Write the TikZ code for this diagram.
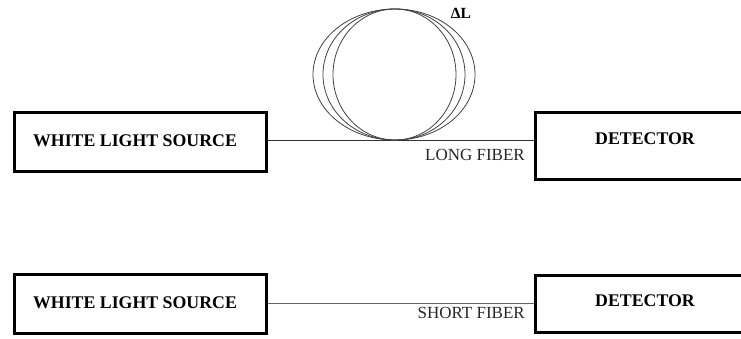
\documentclass[tikz,border=0pt]{standalone}
\usepackage{fontspec}
\setmainfont{Liberation Serif}
\begin{document}
\begin{tikzpicture}[x=1pt,y=1pt,
  box/.style={draw=black, line width=3pt, rectangle, inner sep=0pt},
  boxlabel/.style={font=\fontsize{17.8}{20}\selectfont\bfseries, inner sep=0pt},
  fiberlabel/.style={font=\fontsize{17}{20}\selectfont, inner sep=0pt, text=black!85},
  fiber/.style={draw=black!80, line width=1pt},
  loop/.style={draw=black!75, line width=0.8pt}]
\useasboundingbox (0,0) rectangle (741,338);
% top row
\node[box, minimum width=252pt, minimum height=59pt] (wls1) at (140,196.5) {};
\node[boxlabel] (wls1t) at (135,197) {WHITE LIGHT SOURCE};
\node[box, minimum width=216pt, minimum height=67pt] (det1) at (643,192.5) {};
\node[boxlabel] (det1t) at (645,199) {DETECTOR};
\coordinate (loopbot) at (395,198);
\draw[fiber] (wls1.east |- loopbot) -- (det1.west |- loopbot);
\node[fiberlabel, anchor=base east] (long) at (525,177.5) {LONG FIBER};
\draw[loop] (loopbot) arc[start angle=-90, end angle=-270, x radius=82, y radius=65.5]
  arc[start angle=90, end angle=-90, x radius=61, y radius=65.5];
\draw[loop] (loopbot) arc[start angle=-90, end angle=-270, x radius=72, y radius=65.5]
  arc[start angle=90, end angle=-90, x radius=70, y radius=65.5];
\draw[loop] (loopbot) arc[start angle=-90, end angle=-270, x radius=62, y radius=65.5]
  arc[start angle=90, end angle=-90, x radius=80, y radius=65.5];
\node[font=\fontsize{15.5}{17}\selectfont\bfseries, inner sep=0pt] (dl) at (461,324.5) {ΔL};
% bottom row
\node[box, minimum width=252pt, minimum height=59pt] (wls2) at (140,34.5) {};
\node[boxlabel] (wls2t) at (135,35.5) {WHITE LIGHT SOURCE};
\node[box, minimum width=216pt, minimum height=57pt] (det2) at (643,34.5) {};
\node[boxlabel] (det2t) at (645,37) {DETECTOR};
\coordinate (sf) at (300,35);
\draw[fiber, draw=black!60] (wls2.east |- sf) -- (det2.west |- sf);
\node[fiberlabel, anchor=base east] (short) at (525,20) {SHORT FIBER};
\end{tikzpicture}
\end{document}
